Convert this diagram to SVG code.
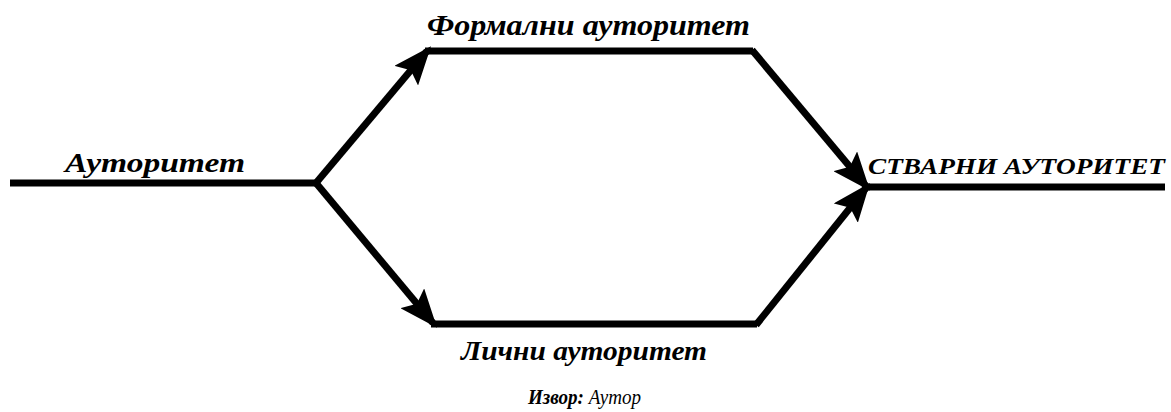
<svg xmlns="http://www.w3.org/2000/svg" width="1171" height="412" viewBox="0 0 1171 412">
<style>
.ln{stroke:#000;stroke-width:7;fill:none;stroke-linecap:butt;stroke-linejoin:miter}
.t{font-family:"Liberation Serif","Times New Roman",serif;font-style:italic;font-weight:bold;fill:#000}
</style>
<defs>
<marker id="ah" markerWidth="5.5" markerHeight="4.4" refX="4.6" refY="2.2" orient="auto" markerUnits="strokeWidth">
<path d="M0,0 L5.5,2.2 L0,4.4 L1,2.2 Z" fill="#000"/>
</marker>
</defs>
<rect width="1171" height="412" fill="#fff"/>
<g id="connectors">
<line class="ln" x1="10" y1="183" x2="316" y2="183"/>
<line class="ln" x1="316" y1="183" x2="427" y2="51" marker-end="url(#ah)"/>
<line class="ln" x1="425" y1="51" x2="753" y2="51"/>
<line class="ln" x1="752" y1="50" x2="866" y2="186" marker-end="url(#ah)"/>
<line class="ln" x1="316" y1="183" x2="433" y2="323" marker-end="url(#ah)"/>
<line class="ln" x1="431" y1="324" x2="757" y2="324"/>
<line class="ln" x1="756" y1="325" x2="866" y2="188" marker-end="url(#ah)"/>
<line class="ln" x1="864" y1="187" x2="1165" y2="187"/>
</g>
<g id="formal"><text class="t" x="427" y="35" font-size="29" textLength="323" lengthAdjust="spacingAndGlyphs">Формални ауторитет</text></g>
<g id="autoritet"><text class="t" x="65" y="172" font-size="27" textLength="180" lengthAdjust="spacingAndGlyphs">Ауторитет</text></g>
<g id="stvarni"><text class="t" x="868" y="174" font-size="24" textLength="297" lengthAdjust="spacingAndGlyphs">СТВАРНИ АУТОРИТЕТ</text></g>
<g id="licni"><text class="t" x="461" y="360" font-size="28" textLength="246" lengthAdjust="spacingAndGlyphs">Лични ауторитет</text></g>
<g id="izvor"><text class="t" x="528" y="404" font-size="21" textLength="113" lengthAdjust="spacingAndGlyphs">Извор:<tspan font-weight="normal"> Аутор</tspan></text></g>
</svg>
